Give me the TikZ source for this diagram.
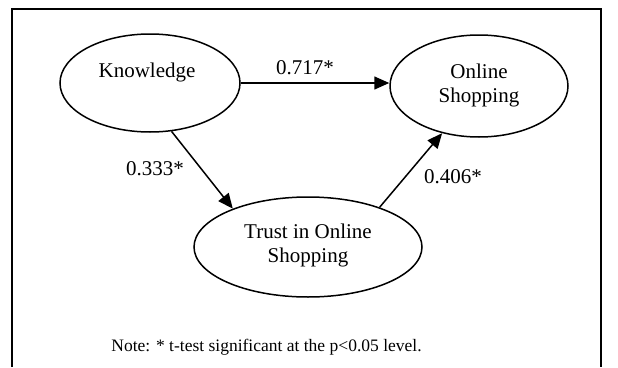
\documentclass[tikz,border=0pt]{standalone}
\usepackage{fontspec}
\setmainfont{Liberation Serif}
\usetikzlibrary{arrows.meta,shapes.geometric,calc}
\begin{document}
\begin{tikzpicture}[x=1pt,y=-1pt,
  oval/.style={draw,ellipse,line width=1.5pt,inner sep=0pt},
  txt/.style={font=\fontsize{21}{24}\selectfont,align=center,inner sep=0pt},
  lbl/.style={font=\fontsize{21}{24}\selectfont,inner sep=0pt},
  conn/.style={line width=1.5pt,-{Triangle[length=15pt,width=13pt]}}]
\useasboundingbox (0,0) rectangle (618,367);
\draw[line width=1.6pt] (12,367) -- (12,9) -- (601,9) -- (601,367);
\node[oval,minimum width=180pt,minimum height=98pt] (K) at (150,83) {};
\node[oval,minimum width=178pt,minimum height=102pt] (O) at (479,86) {};
\node[oval,minimum width=228pt,minimum height=100pt] (T) at (308,247) {};
\node[txt] (Kt) at (147,72) {Knowledge};
\node[txt] (Ot) at (479,85) {Online\\Shopping};
\node[txt] (Tt) at (308,245) {Trust in Online\\Shopping};
\draw[conn] (K.east) -- (K.east -| O.west);
\draw[conn] (K.-66) -- (T.153);
\draw[conn] (T.29) -- (O.-128);
\node[lbl] (l1) at (305,68) {0.717*};
\node[lbl] (l2) at (155,169) {0.333*};
\node[lbl] (l3) at (453,177) {0.406*};
\node[font=\fontsize{17.5}{21}\selectfont,inner sep=0pt] (note) at (266.5,347) {Note: * t-test significant at the p<0.05 level.};
\end{tikzpicture}
\end{document}
